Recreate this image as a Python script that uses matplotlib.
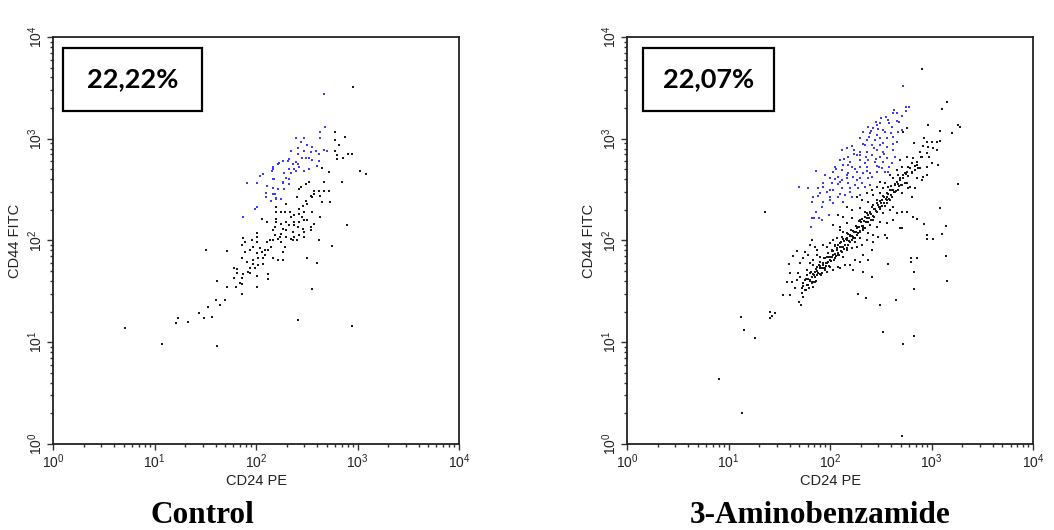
import numpy as np
import matplotlib
matplotlib.use("Agg")
import matplotlib.pyplot as plt
from matplotlib.patches import Rectangle
from matplotlib.ticker import LogLocator, LogFormatterSciNotation, NullFormatter

plt.rcParams['font.family'] = ['Liberation Sans', 'DejaVu Sans']
plt.rcParams['mathtext.fontset'] = 'custom'
plt.rcParams['mathtext.rm'] = 'Liberation Sans'

# Events as (log10 CD24 PE, log10 CD44 FITC)
ctrl_gated = [
    (2.667, 3.44), (2.683, 3.118), (2.634, 3.069), (2.634, 3.004), (2.394, 3.004), (2.476, 3.004),
    (2.44, 2.971), (2.506, 2.939), (2.555, 2.922), (2.411, 2.906), (2.588, 2.88), (2.667, 2.889),
    (2.70, 2.88), (2.345, 2.88), (2.476, 2.88), (2.539, 2.873), (2.411, 2.847), (2.621, 2.847),
    (2.456, 2.808), (2.493, 2.808), (2.522, 2.808), (2.555, 2.791), (2.621, 2.781), (2.328, 2.798),
    (2.312, 2.781), (2.263, 2.781), (2.227, 2.765), (2.214, 2.749), (2.394, 2.775), (2.411, 2.749),
    (2.361, 2.749), (2.165, 2.725), (2.165, 2.70), (2.155, 2.683), (2.328, 2.70), (2.378, 2.70),
    (2.424, 2.725), (2.522, 2.70), (2.473, 2.683), (2.394, 2.683), (2.279, 2.667), (2.345, 2.667),
    (2.604, 2.732), (2.072, 2.651), (2.039, 2.634), (1.908, 2.568), (2.007, 2.568), (2.180, 2.601),
    (2.263, 2.568), (2.296, 2.617), (2.328, 2.601), (2.105, 2.536), (2.165, 2.519), (2.214, 2.503),
    (2.279, 2.503), (2.328, 2.552), (2.099, 2.464), (2.165, 2.454), (2.099, 2.43), (2.197, 2.415),
    (2.167, 2.604), (2.266, 2.572), (2.184, 2.457), (2.2, 2.408), (2.151, 2.391), (2.249, 2.408),
    (1.993, 2.313), (2.007, 2.329), (1.875, 2.231),
]

ctrl_other = [
    (2.959, 3.506), (2.782, 3.069), (2.877, 3.02), (2.782, 2.988), (2.814, 2.939), (2.782, 2.88),
    (2.795, 2.84), (2.909, 2.847), (2.943, 2.847), (2.86, 2.808), (2.795, 2.798), (2.65, 2.716),
    (2.716, 2.670), (3.022, 2.686), (3.084, 2.654), (2.667, 2.572), (2.844, 2.572), (2.522, 2.572),
    (2.49, 2.555), (2.44, 2.523), (2.424, 2.506), (2.572, 2.49), (2.621, 2.49), (2.667, 2.49),
    (2.716, 2.49), (2.539, 2.441), (2.572, 2.457), (2.555, 2.424), (2.634, 2.441), (2.407, 2.424),
    (2.65, 2.375), (2.733, 2.375), (2.493, 2.392), (2.506, 2.362), (2.46, 2.342), (2.299, 2.362),
    (2.2, 2.329), (2.2, 2.28), (2.25, 2.28), (2.283, 2.28), (2.332, 2.28), (2.424, 2.313),
    (2.424, 2.264), (2.473, 2.28), (2.555, 2.28), (2.634, 2.231), (2.457, 2.231), (2.378, 2.248),
    (2.345, 2.231), (2.2, 2.215), (2.056, 2.215), (2.105, 2.182), (2.2, 2.182), (2.25, 2.166),
    (2.299, 2.182), (2.378, 2.182), (2.424, 2.182), (2.473, 2.198), (2.506, 2.198), (2.572, 2.166),
    (2.184, 2.133), (2.263, 2.117), (2.329, 2.149), (2.378, 2.149), (2.411, 2.133), (2.46, 2.117),
    (2.539, 2.133), (2.473, 2.084), (2.539, 2.1), (2.171, 2.1), (2.296, 2.1), (2.362, 2.084),
    (2.25, 2.067), (2.233, 2.035), (2.184, 2.051), (2.168, 2.002), (2.217, 2.018), (2.296, 2.035),
    (2.345, 2.018), (2.378, 2.035), (2.424, 2.051), (2.473, 2.035), (2.407, 2.002), (2.362, 2.002),
    (2.897, 2.149), (2.621, 2.005), (2.007, 2.071), (2.007, 2.038), (1.958, 2.005), (1.876, 2.022),
    (1.895, 1.982), (1.862, 1.956), (2.007, 1.989), (1.974, 1.94), (2.04, 1.923), (2.105, 1.989),
    (2.135, 2.002), (2.151, 1.94), (2.089, 1.907), (2.122, 1.907), (2.056, 1.891), (2.007, 1.874),
    (1.942, 1.907), (1.892, 1.891), (2.25, 1.985), (2.283, 1.936), (2.266, 1.887), (2.168, 1.825),
    (2.217, 1.809), (2.266, 1.809), (2.089, 1.858), (2.073, 1.825), (2.023, 1.825), (1.974, 1.809),
    (1.908, 1.792), (1.862, 1.825), (2.023, 1.76), (1.974, 1.766), (2.073, 1.766), (1.941, 1.727),
    (1.99, 1.727), (1.925, 1.694), (1.876, 1.668), (1.862, 1.635), (1.941, 1.678), (2.007, 1.651),
    (2.122, 1.668), (2.122, 1.618), (1.78, 1.733), (1.813, 1.717), (1.813, 1.684), (1.78, 1.635),
    (1.846, 1.586), (1.862, 1.57), (1.803, 1.54), (1.718, 1.54), (2.007, 1.54), (1.62, 1.606),
    (1.862, 1.475), (1.715, 1.897), (1.508, 1.91), (1.698, 1.412), (1.603, 1.412), (1.649, 1.363),
    (1.524, 1.347), (1.442, 1.284), (1.57, 1.252), (1.491, 1.235), (1.232, 1.235), (1.215, 1.186),
    (1.33, 1.202), (1.071, 0.98), (1.62, 0.963), (2.411, 1.219), (2.943, 1.157), (2.555, 1.524),
    (2.601, 1.782), (2.506, 1.832), (2.749, 1.943), (0.709, 1.14),
]

amb_gated = [
    (2.716, 3.522), (2.748, 3.309), (2.775, 3.309), (2.748, 3.276), (2.617, 3.25), (2.663, 3.25),
    (2.548, 3.21), (2.574, 3.184), (2.663, 3.174), (2.453, 3.168), (2.492, 3.152), (2.466, 3.135),
    (2.377, 3.119), (2.427, 3.102), (2.525, 3.086), (2.541, 3.07), (2.607, 3.119), (2.673, 3.07),
    (2.709, 3.086), (2.328, 3.07), (2.394, 3.053), (2.459, 3.037), (2.295, 3.004), (2.367, 2.988),
    (2.443, 2.988), (2.492, 3.004), (2.558, 3.004), (2.617, 3.02), (2.656, 2.971), (2.344, 2.939),
    (2.41, 2.939), (2.492, 2.939), (2.558, 2.922), (2.118, 2.889), (2.164, 2.906), (2.236, 2.889),
    (2.295, 2.873), (2.367, 2.873), (2.459, 2.889), (2.525, 2.873), (2.624, 2.889), (2.18, 2.824),
    (2.262, 2.84), (2.354, 2.824), (2.41, 2.84), (2.492, 2.824), (2.558, 2.808), (2.64, 2.824),
    (2.098, 2.791), (2.197, 2.775), (2.295, 2.791), (2.377, 2.791), (2.443, 2.775), (2.525, 2.775),
    (2.607, 2.758), (2.049, 2.726), (2.131, 2.742), (2.213, 2.726), (2.295, 2.726), (2.367, 2.726),
    (2.459, 2.732), (2.509, 2.709), (2.584, 2.726), (1.862, 2.686), (2.032, 2.676), (2.115, 2.693),
    (2.18, 2.66), (2.262, 2.676), (2.328, 2.66), (2.394, 2.66), (2.459, 2.676), (2.541, 2.676),
    (1.999, 2.611), (2.082, 2.627), (2.164, 2.611), (2.229, 2.627), (2.295, 2.611), (2.377, 2.611),
    (1.934, 2.562), (2.016, 2.568), (2.098, 2.578), (2.18, 2.562), (2.246, 2.545), (2.312, 2.562),
    (2.394, 2.545), (1.697, 2.529), (1.78, 2.513), (1.885, 2.513), (1.934, 2.529), (2.0, 2.496),
    (2.115, 2.513), (2.197, 2.513), (2.279, 2.513), (2.344, 2.529), (1.835, 2.431), (1.901, 2.464),
    (2.0, 2.431), (2.082, 2.431), (2.147, 2.447), (2.213, 2.431), (2.295, 2.447), (1.826, 2.382),
    (1.934, 2.382), (2.032, 2.365), (2.131, 2.382), (1.99, 2.25), (1.819, 2.218), (1.845, 2.218),
    (1.917, 2.201), (1.812, 2.136), (1.862, 2.277), (1.895, 2.218),
    (1.95, 2.64), (2.06, 2.70), (2.14, 2.80), (2.22, 2.93), (2.30, 2.84), (2.38, 3.02),
    (2.47, 3.10), (2.52, 2.96), (2.60, 3.06), (2.68, 3.16), (2.71, 3.22), (2.58, 3.15),
    (2.43, 2.91), (2.34, 2.76), (2.25, 2.70), (2.17, 2.64), (2.08, 2.55), (1.97, 2.48),
    (1.88, 2.44), (2.03, 2.50), (2.12, 2.59), (2.27, 2.59), (2.36, 2.68), (2.45, 2.80),
    (2.53, 2.85), (2.62, 2.95), (2.48, 2.72), (2.41, 2.62), (2.20, 2.48), (2.10, 2.46),
    (2.00, 2.40), (1.92, 2.33), (2.24, 2.85), (2.32, 2.95), (2.40, 3.08), (2.50, 3.20),
    (2.63, 3.28), (2.18, 2.74), (2.05, 2.60), (2.57, 2.67),
]

amb_other = [
    (2.909, 3.682), (3.149, 3.358), (3.1, 3.292), (2.968, 3.135), (3.264, 3.135), (3.28, 3.119),
    (3.083, 3.079), (3.198, 3.06), (2.755, 3.102), (2.716, 3.07), (2.926, 3.004), (2.952, 2.971),
    (3.001, 2.971), (3.05, 2.971), (3.083, 2.981), (2.827, 2.962), (2.919, 2.929), (2.968, 2.922),
    (3.018, 2.906), (3.05, 2.889), (2.886, 2.873), (2.952, 2.857), (2.978, 2.824), (2.903, 2.824),
    (2.755, 2.824), (2.821, 2.808), (2.854, 2.775), (2.804, 2.758), (2.771, 2.726), (2.86, 2.742),
    (2.886, 2.709), (2.837, 2.693), (2.804, 2.676), (3.067, 2.742), (3.001, 2.758), (2.952, 2.726),
    (2.689, 2.791), (2.706, 2.726), (2.656, 2.693), (2.722, 2.644), (2.739, 2.66), (2.755, 2.676),
    (2.673, 2.644), (2.919, 2.627), (2.952, 2.644), (2.903, 2.595), (2.854, 2.611), (2.591, 2.644),
    (2.624, 2.611), (2.656, 2.578), (2.689, 2.595), (2.64, 2.545), (2.706, 2.545), (2.755, 2.562),
    (2.492, 2.578), (2.541, 2.562), (2.459, 2.529), (2.525, 2.513), (2.574, 2.529), (2.607, 2.496),
    (2.64, 2.48), (2.673, 2.496), (2.706, 2.464), (2.771, 2.513), (2.804, 2.431), (2.837, 2.513),
    (2.41, 2.496), (2.361, 2.464), (2.427, 2.447), (2.492, 2.464), (2.558, 2.431), (2.591, 2.398),
    (2.509, 2.398), (2.459, 2.398), (2.262, 2.431), (2.312, 2.398), (2.377, 2.382), (2.427, 2.349),
    (2.492, 2.333), (2.558, 2.365), (2.624, 2.333), (2.164, 2.333), (2.213, 2.3), (2.295, 2.316),
    (2.344, 2.283), (2.394, 2.267), (2.459, 2.283), (2.525, 2.267), (2.591, 2.3), (2.656, 2.267),
    (2.706, 2.283), (2.082, 2.25), (2.131, 2.234), (2.213, 2.218), (2.295, 2.201), (2.361, 2.218),
    (2.427, 2.201), (2.492, 2.185), (2.558, 2.169), (2.624, 2.201), (2.032, 2.152), (2.098, 2.136),
    (2.164, 2.169), (2.262, 2.136), (2.328, 2.12), (2.394, 2.152), (2.459, 2.136), (2.706, 2.12),
    (3.264, 2.555), (3.083, 2.316), (2.926, 2.159), (3.139, 2.146), (2.821, 2.234), (2.854, 2.208),
    (2.755, 2.283), (2.788, 2.529),
    (2.328, 2.104), (2.295, 2.087), (2.377, 2.071), (2.262, 2.054), (2.23, 2.038), (2.197, 2.054),
    (2.164, 2.071), (2.131, 2.087), (2.098, 2.104), (2.427, 2.054), (2.476, 2.038), (2.542, 2.054),
    (2.558, 2.022), (2.427, 1.989), (2.361, 2.005), (2.295, 2.022), (2.246, 1.989), (2.213, 2.005),
    (2.164, 2.022), (2.115, 2.038), (2.065, 2.022), (2.032, 2.005), (1.999, 1.973), (2.049, 1.956),
    (2.098, 1.973), (2.131, 1.94), (2.18, 1.956), (2.262, 1.94), (2.312, 1.956), (2.213, 1.923),
    (2.164, 1.907), (2.115, 1.891), (2.065, 1.923), (2.016, 1.907), (1.967, 1.94), (1.934, 1.956),
    (1.983, 1.874), (2.032, 1.858), (2.082, 1.858), (2.131, 1.842), (2.049, 1.825), (2.0, 1.809),
    (1.95, 1.825), (1.901, 1.842), (1.868, 1.858), (1.901, 1.792), (1.934, 1.76), (1.967, 1.776),
    (2.0, 1.743), (1.95, 1.727), (1.901, 1.727), (1.868, 1.743), (1.835, 1.76), (1.803, 1.776),
    (1.852, 1.694), (1.803, 1.678), (1.77, 1.661), (1.819, 1.645), (1.868, 1.661), (1.917, 1.678),
    (1.967, 1.694), (2.032, 1.71), (2.082, 1.743), (1.753, 1.612), (1.803, 1.612), (1.852, 1.596),
    (1.737, 1.579), (1.786, 1.563), (1.835, 1.547), (1.72, 1.53), (1.763, 1.514), (1.819, 1.579),
    (1.704, 1.645), (1.688, 1.678), (1.671, 1.612), (1.77, 1.71), (1.835, 1.809), (1.786, 1.858),
    (1.737, 1.825), (1.704, 1.776), (1.753, 1.891), (1.606, 1.678), (1.599, 1.766), (1.573, 1.596),
    (1.622, 1.596), (1.655, 1.53), (1.54, 1.465), (1.606, 1.465), (1.72, 1.481), (1.73, 1.448),
    (1.694, 1.399), (1.714, 1.366), (1.671, 1.897), (1.632, 1.848), (1.803, 1.956), (1.852, 1.94),
    (1.868, 1.907), (1.819, 2.005), (2.41, 1.907), (2.328, 1.858), (2.246, 1.809), (2.197, 1.76),
    (2.147, 1.76), (2.098, 1.727), (2.295, 1.792), (2.377, 1.809), (2.23, 1.71), (2.328, 1.694),
    (2.41, 1.638), (2.279, 1.475), (2.354, 1.432), (2.492, 1.366), (2.65, 1.416), (2.571, 1.766),
    (2.525, 1.104), (2.716, 0.98), (2.827, 1.062), (2.827, 1.524), (2.827, 1.688), (2.794, 1.832),
    (2.86, 1.832), (2.794, 1.786), (3.139, 1.848), (3.149, 1.606), (2.959, 2.054), (3.018, 2.012),
    (3.1, 2.061), (2.959, 2.012), (2.689, 2.12), (1.359, 2.277), (1.12, 1.252), (1.152, 1.121),
    (1.264, 1.039), (1.409, 1.301), (1.458, 1.285), (1.425, 1.258), (1.409, 1.236), (0.91, 0.639),
    (1.136, 0.302), (2.713, 0.076),
    # dense diagonal band
    (1.738, 1.557), (1.752, 1.512), (1.761, 1.622), (1.770, 1.562), (1.784, 1.617), (1.790, 1.533),
    (1.801, 1.605), (1.812, 1.687), (1.819, 1.594), (1.828, 1.674), (1.836, 1.593), (1.844, 1.661),
    (1.851, 1.639), (1.859, 1.717), (1.866, 1.605), (1.874, 1.704), (1.882, 1.682), (1.889, 1.760),
    (1.897, 1.668), (1.904, 1.746), (1.911, 1.663), (1.919, 1.732), (1.926, 1.780), (1.934, 1.728),
    (1.941, 1.826), (1.949, 1.714), (1.956, 1.782), (1.963, 1.749), (1.971, 1.838), (1.978, 1.786),
    (1.985, 1.833), (1.993, 1.752), (2.001, 1.840), (2.008, 1.798), (2.015, 1.895), (2.023, 1.834),
    (2.030, 1.892), (2.038, 1.810), (2.045, 1.868), (2.053, 1.946), (2.060, 1.844), (2.067, 1.911),
    (2.075, 1.880), (2.082, 1.958), (2.090, 1.856), (2.097, 1.934), (2.104, 1.901), (2.112, 1.980),
    (2.119, 1.937), (2.127, 2.016), (2.134, 1.914), (2.141, 1.991), (2.149, 1.960), (2.156, 2.017),
    (2.164, 1.926), (2.171, 2.003), (2.178, 2.061), (2.186, 1.990), (2.193, 2.047), (2.201, 1.986),
    (2.208, 2.103), (2.215, 2.041), (2.223, 2.089), (2.230, 2.027), (2.238, 2.086), (2.245, 2.023),
    (2.252, 2.141), (2.260, 2.079), (2.267, 2.127), (2.275, 2.075), (2.282, 2.193), (2.289, 2.131),
    (2.297, 2.089), (2.304, 2.177), (2.312, 2.145), (2.319, 2.213), (2.326, 2.140), (2.334, 2.189),
    (2.341, 2.127), (2.349, 2.235), (2.356, 2.183), (2.363, 2.270), (2.371, 2.179), (2.378, 2.246),
    (2.386, 2.225), (2.393, 2.283), (2.401, 2.201), (2.408, 2.259), (2.415, 2.326), (2.423, 2.245),
    (2.430, 2.312), (2.438, 2.231), (2.445, 2.309), (2.452, 2.286), (2.460, 2.365), (2.467, 2.282),
    (2.475, 2.351), (2.482, 2.328), (2.490, 2.387), (2.497, 2.305), (2.504, 2.372), (2.512, 2.341),
    (2.519, 2.438), (2.527, 2.367), (2.534, 2.424), (2.542, 2.343), (2.549, 2.411), (2.557, 2.469),
    (2.564, 2.397), (2.572, 2.455), (2.580, 2.404), (2.588, 2.493), (2.596, 2.451), (2.605, 2.531),
    (2.614, 2.431), (2.623, 2.500), (2.633, 2.481), (2.643, 2.552), (2.654, 2.484), (2.665, 2.555),
    (2.677, 2.538), (2.690, 2.612), (2.703, 2.546), (2.718, 2.612), (2.734, 2.560), (2.751, 2.658),
    (2.770, 2.629), (2.790, 2.710), (2.812, 2.664), (2.837, 2.731), (2.866, 2.712), (2.898, 2.816),
]

panel_titles = ["Control", "3-Aminobenzamide"]
gated_percent = ["22,22%", "22,07%"]

fig = plt.figure(figsize=(10.54, 5.30), dpi=100)
axes_rects = [(0.0503, 0.1623, 0.3852, 0.768), (0.5949, 0.1623, 0.3852, 0.768)]
box_extents = [(0.0246, 0.818, 0.342, 0.155), (0.039, 0.818, 0.323, 0.155)]
title_x = [0.192, 0.778]

datasets = [(ctrl_other, ctrl_gated), (amb_other, amb_gated)]

for rect, (other, gated), pct, box, title, tx in zip(
        axes_rects, datasets, gated_percent, box_extents, panel_titles, title_x):
    ax = fig.add_axes(rect)
    ax.set_xscale('log')
    ax.set_yscale('log')
    ax.set_xlim(1, 1e4)
    ax.set_ylim(1, 1e4)

    o = np.array(other)
    g = np.array(gated)
    ax.scatter(10 ** o[:, 0], 10 ** o[:, 1], s=3.8, marker='s', c='#1a1a1a', linewidths=0)
    ax.scatter(10 ** g[:, 0], 10 ** g[:, 1], s=3.8, marker='s', c='#3c3cff', linewidths=0)

    for axis in (ax.xaxis, ax.yaxis):
        axis.set_major_locator(LogLocator(base=10, numticks=10))
        axis.set_minor_locator(LogLocator(base=10, subs=np.arange(2, 10), numticks=10))
        axis.set_major_formatter(LogFormatterSciNotation())
        axis.set_minor_formatter(NullFormatter())

    ax.tick_params(which='both', direction='out', color='#333333', width=1.0)
    ax.tick_params(which='major', length=4, labelsize=10, labelcolor='#222222', pad=2)
    ax.tick_params(which='minor', length=2.5)
    ax.tick_params(axis='y', labelrotation=90)
    for lbl in ax.get_yticklabels():
        lbl.set_va('center')

    for sp in ax.spines.values():
        sp.set_linewidth(1.3)
        sp.set_color('#222222')

    ax.set_xlabel('CD24 PE', fontsize=10.5, color='#222222', labelpad=2)
    ax.set_ylabel('CD44 FITC', fontsize=10.5, color='#222222', labelpad=3)

    bx, by, bw, bh = box
    ax.add_patch(Rectangle((bx, by), bw, bh, transform=ax.transAxes, fill=False,
                           edgecolor='black', linewidth=1.6, clip_on=False, zorder=5))
    ax.text(bx + bw / 2, by + bh / 2, pct, transform=ax.transAxes, ha='center', va='center',
            fontsize=19.5, fontweight='bold', family=['Lato', 'DejaVu Sans'], zorder=6)

    fig.text(tx, 0.014, title, ha='center', va='baseline', fontsize=22.5, fontweight='bold',
             family=['Liberation Serif', 'DejaVu Serif'])

fig.savefig('out.png', dpi=100, facecolor='white')
